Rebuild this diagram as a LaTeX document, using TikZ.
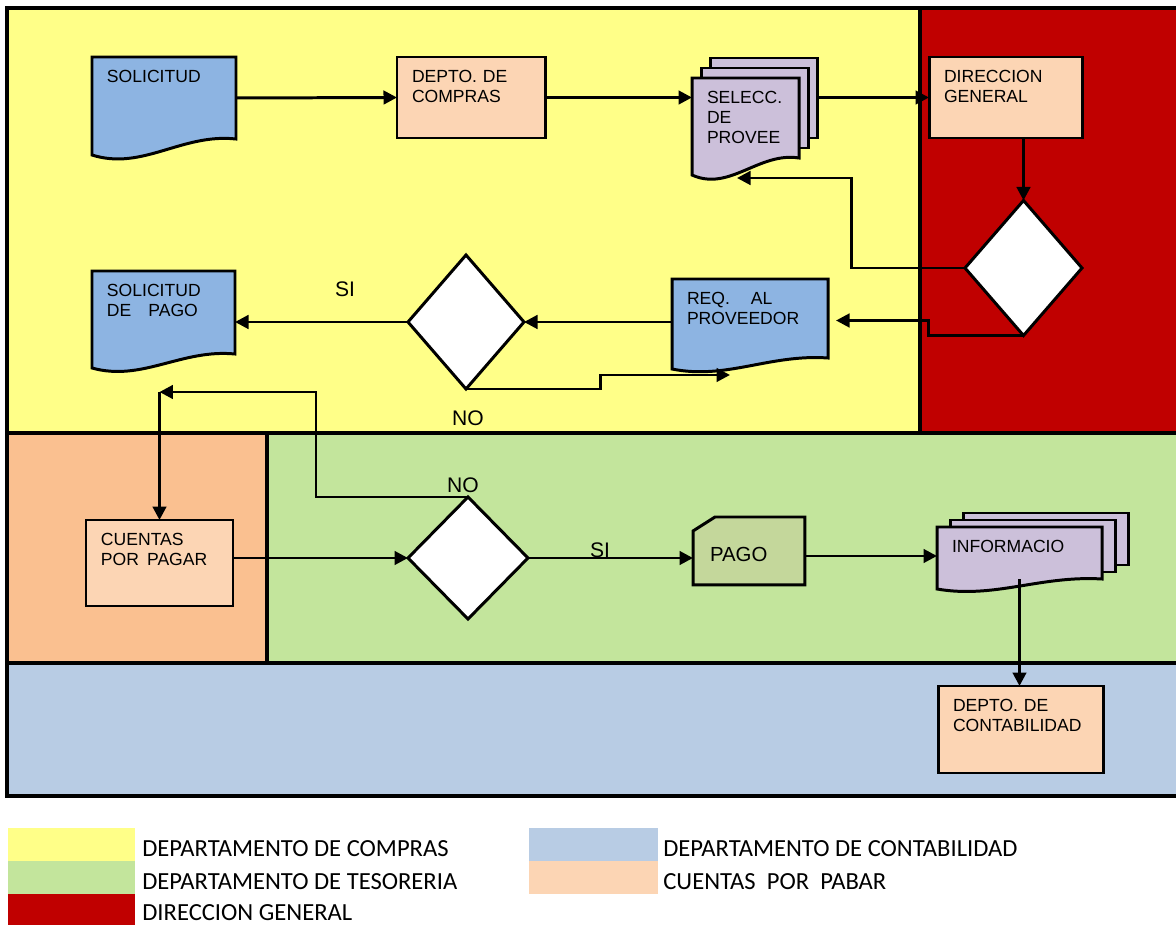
\documentclass[tikz,border=0pt]{standalone}
\usepackage{fontspec}
\setmainfont{Liberation Sans}
\newfontfamily\legendfont{Carlito}
\usetikzlibrary{arrows.meta,calc,shapes.geometric}
\definecolor{LaneYellow}{HTML}{FFFF88}
\definecolor{LaneRed}{HTML}{C00000}
\definecolor{LaneOrange}{HTML}{FAC090}
\definecolor{LaneGreen}{HTML}{C3E59C}
\definecolor{LaneBlue}{HTML}{B8CCE4}
\definecolor{BoxPeach}{HTML}{FCD5B4}
\definecolor{DocBlue}{HTML}{8DB4E2}
\definecolor{PageLilac}{HTML}{CCC0DA}
\definecolor{PagoGreen}{HTML}{C4D79B}
\pgfdeclarelayer{lanes}
\pgfdeclarelayer{sheets}
\pgfsetlayers{lanes,sheets,main}
\newcommand{\wavedoc}[3]{%
  \filldraw[sheet line,fill=#3] (#1.north west) -- (#1.north east) -- (#1.south east)
    .. controls ($(#1.south east)!0.375!(#1.south west)+(0,-0.375*#2)$)
    and ($(#1.south east)!0.65!(#1.south west)+(0,2*#2)$) .. ($(#1.south west)+(0,#2)$) -- cycle;}
\newcommand{\stackdoc}[5]{%
  \foreach \k in {2,1}{%
    \filldraw[sheet line,fill=#5] ($(#1.north west)+(\k*#2,\k*#3)$) rectangle ($(#1.south east)+(\k*#2,\k*#3)$);}
  \wavedoc{#1}{#4}{#5}}

\begin{document}
\begin{tikzpicture}[
    x=0.02cm,y=-0.02cm,
    every node/.style={font=\fontsize{10}{11.4}\selectfont},
    box/.style 2 args={draw,line width=1.7pt,fill=BoxPeach,anchor=north west,align=left,outer sep=0pt,
      inner xsep=0.3cm,inner ysep=0pt,text width=#1*0.02cm-0.6cm,text height=0.513cm,text depth=#2*0.02cm-0.513cm},
    sheet/.style 2 args={box={#1}{#2},draw=none,fill=none},
    decision/.style 2 args={diamond,draw,line width=1.7pt,fill=white,inner sep=0pt,outer sep=0pt,
      minimum width=#1*0.02cm,minimum height=#2*0.02cm},
    lbl/.style={font=\fontsize{12}{14}\selectfont,inner sep=0pt},
    leg/.style={font=\legendfont\fontsize{14}{16}\selectfont,anchor=base west,inner sep=0pt},
    arr/.style={-{Triangle[length=0.27cm,width=0.27cm]},line width=1.7pt},
    lane line/.style={line width=2.1pt},
    sheet line/.style={line width=1.7pt}
  ]
  \useasboundingbox (0,0) rectangle (1176,925);
  \begin{pgfonlayer}{lanes}
    \fill[LaneYellow] (7,8) rectangle (920,433);
    \fill[LaneRed] (920,8) rectangle (1176,433);
    \fill[LaneOrange] (7,433) rectangle (267,663);
    \fill[LaneGreen] (267,433) rectangle (1176,663);
    \fill[LaneBlue] (7,663) rectangle (1176,796);
    \draw[lane line] (1176,8) -- (7,8) -- (7,796) -- (1176,796);
    \draw[lane line] (7,433) -- (1176,433) (7,663) -- (1176,663) (920,8) -- (920,433) (267,433) -- (267,663);
  \end{pgfonlayer}

  \node[sheet={144}{82}] (sol) at (92,57) {SOLICITUD};
  \node[box={148}{81}] (dep) at (397,57) {DEPTO. DE\\COMPRAS};
  \node[sheet={107}{80}] (sel) at (692,78) {SELECC.\\DE\\PROVEE};
  \node[box={153}{81}] (dir) at (929,57) {DIRECCION\\GENERAL};
  \node[decision={117}{135}] (dec1) at (1023.5,268) {};
  \node[sheet={156}{79}] (req) at (672,279) {REQ.\hspace{0.42cm}AL\\PROVEEDOR};
  \node[decision={116}{134}] (dec2) at (466,322) {};
  \node[sheet={143}{83}] (solp) at (92,271) {SOLICITUD\\DE\hspace{0.34cm}PAGO};
  \node[box={147}{86}] (cxp) at (86,520) {CUENTAS\\POR\hspace{0.16cm}PAGAR};
  \node[decision={120}{122}] (dec3) at (468,558) {};
  \node[box={112}{68},draw=none,fill=none,inner xsep=0.34cm,text width=1.56cm,text height=0.893cm,
    text depth=0.467cm,font=\fontsize{11.6}{13}\selectfont] (pago) at (693,517) {PAGO};
  \node[sheet={165}{52}] (info) at (937,527) {INFORMACIO};
  \node[box={165}{87}] (cont) at (938,686) {DEPTO. DE\\CONTABILIDAD};

  \begin{pgfonlayer}{sheets}
    \wavedoc{sol}{16}{DocBlue}
    \stackdoc{sel}{9}{-10}{17}{PageLilac}
    \wavedoc{req}{11}{DocBlue}
    \wavedoc{solp}{14}{DocBlue}
    \filldraw[sheet line,fill=PagoGreen] ($(pago.north west)+(0,14)$) -- ($(pago.north west)+(22,0)$)
      -- (pago.north east) -- (pago.south east) -- (pago.south west) -- cycle;
    \stackdoc{info}{13}{-7}{10}{PageLilac}
  \end{pgfonlayer}

  \node[lbl] (si1) at (345,289) {SI};
  \node[lbl] (no1) at (468,418) {NO};
  \node[lbl] (no2) at (463,485) {NO};
  \node[lbl] (si2) at (600,550) {SI};
  \coordinate (jn) at ($(cxp.north)+(0,-128)$);

  \draw[arr] (sol.east) -- (dep.west);
  \draw[arr] (dep.east) -- (sel.west |- dep.east);
  \draw[arr] ($(sel.east |- dir.west)+(18,0)$) -- (dir.west);
  \draw[arr] (dec1.north |- dir.south) -- (dec1.north);
  \draw[arr] (dec1.west) -- ++(-114,0) |- ($(sel.south west)+(45,20)$);
  \draw[arr] (dec1.south) -- ++(-95,0) |- ($(req.east)+(8,2)$);
  \draw[arr] (req.west |- dec2.east) -- (dec2.east);
  \draw[arr] (dec2.west) -- (solp.east |- dec2.west);
  \draw[arr] (dec2.south) -- ++(134,0) |- ($(req.south west)+(58,17)$);
  \draw[arr] (dec3.north) -- ++(-152,0) |- (jn);
  \draw[arr] (jn) -- (cxp.north);
  \draw[arr] (cxp.east |- dec3.west) -- (dec3.west);
  \draw[arr] (dec3.east) -- (pago.west |- dec3.east);
  \draw[arr] ($(pago.east)+(0,5)$) -- ($(info.west |- pago.east)+(0,5)$);
  \draw[arr] (info.south) -- (info.south |- cont.north);

  \fill[LaneYellow] (8,828) rectangle (135,861);
  \fill[LaneGreen] (8,861) rectangle (135,894);
  \fill[LaneRed] (8,894) rectangle (135,925);
  \fill[LaneBlue] (529,828) rectangle (658,861);
  \fill[BoxPeach] (529,861) rectangle (658,894);
  \node[leg] (lg1) at (142,856) {DEPARTAMENTO DE COMPRAS};
  \node[leg] (lg2) at (142,889) {DEPARTAMENTO DE TESORERIA};
  \node[leg] (lg3) at (142,920) {DIRECCION GENERAL};
  \node[leg] (lg4) at (663,856) {DEPARTAMENTO DE CONTABILIDAD};
  \node[leg] (lg5) at (663,889) {CUENTAS\ \ POR\ \ PABAR};
\end{tikzpicture}
\end{document}
